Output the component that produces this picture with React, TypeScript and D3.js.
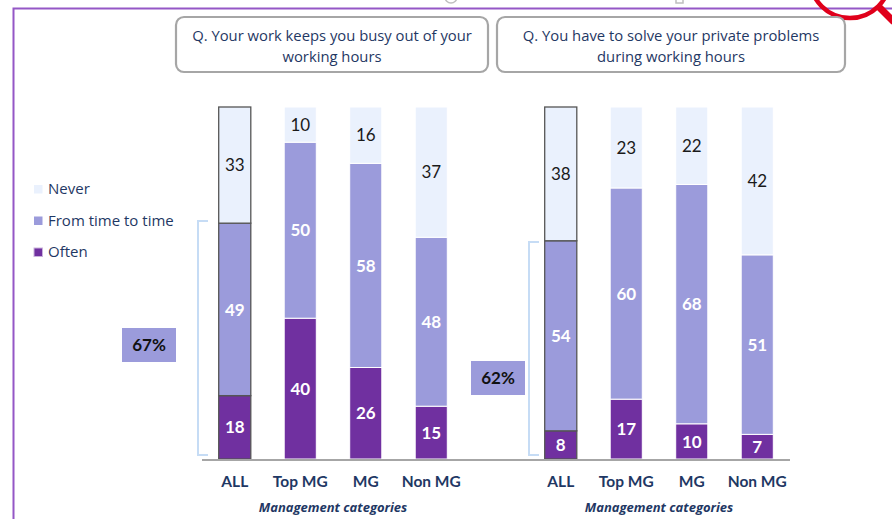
import React from "react";
import * as d3 from "d3";

const categories = ["ALL", "Top MG", "MG", "Non MG"];
const seriesNames = ["Often", "From time to time", "Never"];
const legendOrder = ["Never", "From time to time", "Often"];

const q1Often = [18, 40, 26, 15];
const q1Sometimes = [49, 50, 58, 48];
const q1Never = [33, 10, 16, 37];

const q2Often = [8, 17, 10, 7];
const q2Sometimes = [54, 60, 68, 51];
const q2Never = [38, 23, 22, 42];

const q1Title = ["Q. Your work keeps you busy out of your", "working hours"];
const q2Title = ["Q. You have to solve your private problems", "during working hours"];
const q1Total = "67%";
const q2Total = "62%";
const axisTitle = "Management categories";

const colors: Record<string, string> = {
  Often: "#7030a0",
  "From time to time": "#9b9bdb",
  Never: "#eaf1fd",
};

const FONT = "Lato, 'Open Sans', sans-serif";
const FONT2 = "'Open Sans', sans-serif";
const NAVY = "#1f3864";

const y = d3.scaleLinear().domain([0, 100]).range([459, 107]);

function Panel({
  x0,
  x1,
  often,
  sometimes,
  never,
}: {
  x0: number;
  x1: number;
  often: number[];
  sometimes: number[];
  never: number[];
}) {
  const x = d3
    .scaleBand<string>()
    .domain(categories)
    .range([x0, x1])
    .paddingInner(0.51)
    .paddingOuter(0.255);
  const rows = categories.map((c, i) => ({
    cat: c,
    Often: often[i],
    "From time to time": sometimes[i],
    Never: never[i],
  }));
  const stack = d3.stack<any>().keys(seriesNames)(rows);
  return (
    <g>
      {stack.map((layer) =>
        layer.map((d, i) => {
          const cat = categories[i];
          const bx = x(cat)!;
          const bw = x.bandwidth();
          const top = y(d[1]);
          const bot = y(d[0]);
          const isAll = i === 0;
          const key = layer.key;
          const val = d[1] - d[0];
          const isNever = key === "Never";
          return (
            <g key={key + cat}>
              <rect
                x={bx}
                y={top}
                width={bw}
                height={bot - top}
                fill={colors[key]}
                stroke={isAll ? "#555" : "#fff"}
                strokeWidth={isAll ? 1.3 : 1}
              />
              <text
                x={bx + bw / 2}
                y={(top + bot) / 2}
                dy="0.36em"
                textAnchor="middle"
                fontFamily={FONT}
                fontSize={17}
                fontWeight={isNever ? 400 : 700}
                fill={isNever ? "#1a1a1a" : "#fff"}
              >
                {val}
              </text>
            </g>
          );
        })
      )}
      {categories.map((c) => (
        <text
          key={c}
          x={x(c)! + x.bandwidth() / 2}
          y={487}
          textAnchor="middle"
          fontFamily={FONT}
          fontSize={15.5}
          fontWeight={700}
          fill={NAVY}
        >
          {c}
        </text>
      ))}
      <text
        x={(x0 + x1) / 2}
        y={512}
        textAnchor="middle"
        fontFamily={FONT2}
        fontSize={13}
        fontWeight={700}
        fontStyle="italic"
        fill={NAVY}
      >
        {axisTitle}
      </text>
    </g>
  );
}

function TitleBox({ x, w, lines }: { x: number; w: number; lines: string[] }) {
  return (
    <g>
      <rect
        x={x}
        y={17}
        width={w}
        height={55}
        rx={8}
        fill="#fff"
        stroke="#a6a6a6"
        strokeWidth={2.2}
      />
      {lines.map((l, i) => (
        <text
          key={i}
          x={x + w / 2}
          y={41 + i * 21}
          textAnchor="middle"
          fontFamily={FONT2}
          fontSize={14.8}
          fill={NAVY}
        >
          {l}
        </text>
      ))}
    </g>
  );
}

function Bracket({ x, yTop, yBot }: { x: number; yTop: number; yBot: number }) {
  return (
    <path
      d={`M${x + 10},${yTop} H${x} V${yBot} H${x + 10}`}
      fill="none"
      stroke="#c6dcf5"
      strokeWidth={2}
    />
  );
}

export default function App() {
  return (
    <svg
      width={892}
      height={519}
      style={{ position: "absolute", left: 0, top: 0, background: "#fff" }}
    >
      <rect x={0} y={0} width={892} height={519} fill="#fff" />
      {/* frame */}
      <path d="M13.5,519 V8.5 H892" fill="none" stroke="#9457c6" strokeWidth={2} />
      {/* partial icons at top */}
      <circle cx={451} cy={-3} r={6} fill="none" stroke="#bfbfbf" strokeWidth={1.5} />
      <rect x={676} y={-6} width={7} height={9} fill="none" stroke="#bfbfbf" strokeWidth={1.5} />
      {/* red magnifier artifact */}
      <circle cx={850} cy={-22} r={40} fill="none" stroke="#e0001b" strokeWidth={4.5} />
      <path d="M878,6 L894,22" stroke="#e0001b" strokeWidth={7} />

      <TitleBox x={176} w={312} lines={q1Title} />
      <TitleBox x={497} w={348} lines={q2Title} />

      {/* legend */}
      {legendOrder.map((k, i) => (
        <g key={k} transform={`translate(34, ${185 + i * 31.5})`}>
          <rect
            width={8.5}
            height={8.5}
            fill={colors[k]}
            stroke={k === "Often" ? "#c9b3dc" : "none"}
            strokeWidth={1}
          />
          <text
            x={14}
            y={9}
            fontFamily={FONT2}
            fontSize={15}
            fill={NAVY}
          >
            {k}
          </text>
        </g>
      ))}

      <Bracket x={198} yTop={221} yBot={455} />
      <Bracket x={529} yTop={242} yBot={455} />

      <rect x={122} y={328} width={54} height={34} fill="#9b9bdb" />
      <text x={149} y={345} dy="0.36em" textAnchor="middle" fontFamily={FONT} fontSize={17} fontWeight={700} fill="#111">
        {q1Total}
      </text>
      <rect x={471} y={361} width={54} height={34} fill="#9b9bdb" />
      <text x={498} y={378} dy="0.36em" textAnchor="middle" fontFamily={FONT} fontSize={17} fontWeight={700} fill="#111">
        {q2Total}
      </text>

      <Panel x0={202} x1={464} often={q1Often} sometimes={q1Sometimes} never={q1Never} />
      <Panel x0={528} x1={790} often={q2Often} sometimes={q2Sometimes} never={q2Never} />

      <line x1={202} x2={790} y1={460} y2={460} stroke="#a6a6a6" strokeWidth={2} />
    </svg>
  );
}
